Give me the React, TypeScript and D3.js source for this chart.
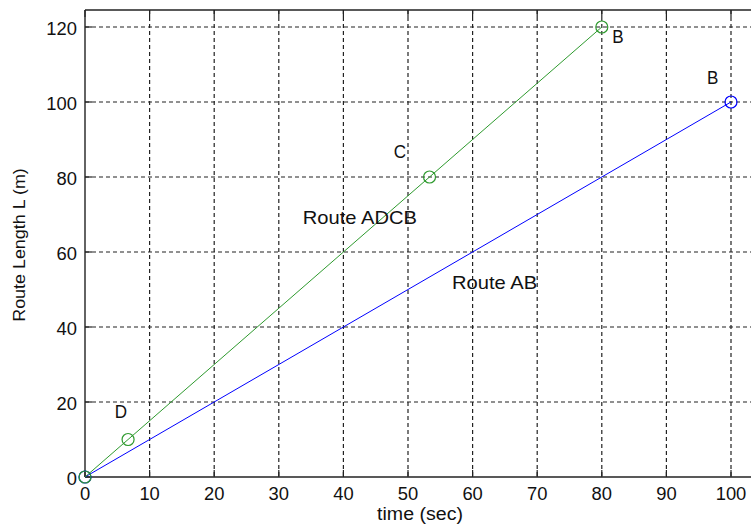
import React from "react";
import * as d3 from "d3";

const xTicks = [0, 10, 20, 30, 40, 50, 60, 70, 80, 90, 100];
const yTicks = [0, 20, 40, 60, 80, 100, 120];
const routeADCB = [
  { t: 0, L: 0 },
  { t: 6.667, L: 10 },
  { t: 53.333, L: 80 },
  { t: 80, L: 120 },
];
const routeAB = [
  { t: 0, L: 0 },
  { t: 100, L: 100 },
];
const pointLabels = [
  { text: "D", t: 4.6, L: 15.7 },
  { text: "C", t: 47.8, L: 85.1 },
  { text: "B", t: 81.6, L: 115.7 },
  { text: "B", t: 96.3, L: 104.8 },
];
const lineLabels = [
  { text: "Route ADCB", t: 33.7, L: 67.5 },
  { text: "Route AB", t: 56.8, L: 50.1 },
];

const font = "'Liberation Sans', Arial, sans-serif";

function Txt({ x, y, children, size = 18, anchor = "start", sx = 1.12, rotate = 0 }: any) {
  return (
    <g transform={`translate(${x},${y}) rotate(${rotate}) scale(${sx},1)`}>
      <text x={0} y={0} textAnchor={anchor} fontFamily={font} fontSize={size} fill="#111">{children}</text>
    </g>
  );
}

export default function App() {
  const W = 751, H = 527;
  const x = d3.scaleLinear().domain([0, 100]).range([85, 731]);
  const y = d3.scaleLinear().domain([0, 120]).range([477, 27]);
  const top = 10, bottom = 477, left = 85, right = 760;
  const line = d3.line<{ t: number; L: number }>().x(d => x(d.t)).y(d => y(d.L));
  const green = "#2e9a2e";
  const blue = "#0000ff";
  return (
    <svg width={W} height={H} style={{ position: "absolute", left: 0, top: 0, background: "#fff" }}>
      <rect x={0} y={0} width={W} height={H} fill="#fff" />
      {xTicks.filter(t => t > 0).map(t => (
        <line key={"gx" + t} x1={x(t)} x2={x(t)} y1={top} y2={bottom} stroke="#222" strokeDasharray="4,3" strokeWidth={1.2} />
      ))}
      {yTicks.filter(t => t > 0).map(t => (
        <line key={"gy" + t} x1={left} x2={right} y1={y(t)} y2={y(t)} stroke="#222" strokeDasharray="4,3" strokeWidth={1.2} />
      ))}
      {xTicks.map(t => (
        <g key={"tx" + t}>
          <line x1={x(t)} x2={x(t)} y1={bottom} y2={bottom - 7} stroke="#222" strokeWidth={1.2} />
          <line x1={x(t)} x2={x(t)} y1={top} y2={top + 7} stroke="#222" strokeWidth={1.2} />
          <Txt x={x(t)} y={500} anchor="middle" size={18} sx={1.02}>{t}</Txt>
        </g>
      ))}
      {yTicks.map(t => (
        <g key={"ty" + t}>
          <line x1={left} x2={left + 7} y1={y(t)} y2={y(t)} stroke="#222" strokeWidth={1.2} />
          <Txt x={77} y={y(t) + 7.5} anchor="end" size={18} sx={1.02}>{t}</Txt>
        </g>
      ))}
      <line x1={left} x2={left} y1={top} y2={bottom} stroke="#222" strokeWidth={1.4} />
      <line x1={left} x2={right} y1={top} y2={top} stroke="#222" strokeWidth={1.4} />
      <line x1={left} x2={right} y1={bottom} y2={bottom} stroke="#222" strokeWidth={1.4} />
      <path d={line(routeAB) || ""} fill="none" stroke={blue} strokeWidth={1} />
      <path d={line(routeADCB) || ""} fill="none" stroke={green} strokeWidth={1} />
      {routeAB.map((d, i) => (
        <circle key={"ab" + i} cx={x(d.t)} cy={y(d.L)} r={6} fill="none" stroke={blue} strokeWidth={1.2} />
      ))}
      {routeADCB.map((d, i) => (
        <circle key={"adcb" + i} cx={x(d.t)} cy={y(d.L)} r={6} fill="none" stroke={green} strokeWidth={1.2} />
      ))}
      {pointLabels.map((p, i) => (
        <Txt key={"pl" + i} x={x(p.t)} y={y(p.L)} size={18} sx={0.95}>{p.text}</Txt>
      ))}
      {lineLabels.map((p, i) => (
        <Txt key={"ll" + i} x={x(p.t)} y={y(p.L)} size={18}>{p.text}</Txt>
      ))}
      <Txt x={420} y={520} anchor="middle" size={17.5}>time (sec)</Txt>
      <Txt x={25} y={245} anchor="middle" size={16} rotate={-90}>Route Length L (m)</Txt>
    </svg>
  );
}
